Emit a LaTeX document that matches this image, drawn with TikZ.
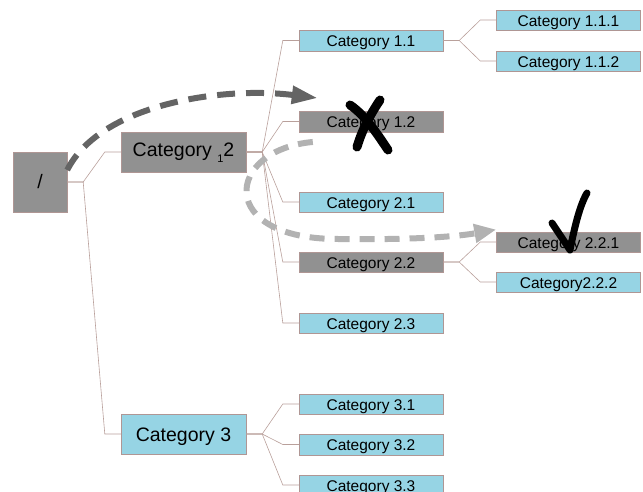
\documentclass[tikz,border=0pt]{standalone}
\usepackage{fontspec}
\setmainfont{Liberation Sans}
\usetikzlibrary{arrows.meta}

\definecolor{catblue}{RGB}{150,212,228}
\definecolor{catgray}{RGB}{145,145,145}
\definecolor{catedge}{RGB}{175,150,148}
\definecolor{linkclr}{RGB}{185,160,155}
\definecolor{darkpath}{RGB}{100,100,100}
\definecolor{lightpath}{RGB}{178,178,178}

\tikzset{
  cat/.style={draw=catedge, fill=catblue, minimum width=144pt, minimum height=20.5pt,
    inner sep=0pt, font=\fontsize{15.5}{16}\selectfont, text height=14pt, text depth=1.5pt},
  catoff/.style={cat, fill=catgray},
  bigcat/.style={draw=catedge, fill=catblue, minimum width=125pt, minimum height=40pt,
    inner sep=0pt, font=\fontsize{19.5}{20}\selectfont, text height=14.5pt, text depth=0pt},
  link/.style={draw=linkclr, line width=0.6pt}
}

\begin{document}
\begin{tikzpicture}[x=1pt, y=-1pt]

    \useasboundingbox (0,0) rectangle (643,491);

    % Root and first level
    \node[draw=catedge, fill=catgray, minimum width=54pt, minimum height=60pt,
      font=\fontsize{19.5}{20}\selectfont] (root) at (40,182) {/};
    \node[bigcat, fill=catgray, text depth=6pt] (catA) at (183.5,152)
      {Category {\fontsize{11}{11}\selectfont\raisebox{-6.5pt}{1}}2};
    \node[bigcat] (catC) at (183.5,434) {Category 3};

    % Second level
    \node[cat] (c11) at (371,40.5) {Category 1.1};
    \node[catoff] (c12) at (371,121.5) {Category 1.2};
    \node[cat] (c21) at (371,202) {Category 2.1};
    \node[catoff] (c22) at (371,262) {Category 2.2};
    \node[cat] (c23) at (371,323) {Category 2.3};
    \node[cat] (c31) at (371,404) {Category 3.1};
    \node[cat] (c32) at (371,444.5) {Category 3.2};
    \node[cat] (c33) at (371,485) {Category 3.3};

    % Third level
    \node[cat] (c111) at (568.5,20) {Category 1.1.1};
    \node[cat] (c112) at (568.5,61) {Category 1.1.2};
    \node[catoff] (c221) at (568.5,242) {Category 2.2.1};
    \node[cat] (c222) at (568.5,282) {Category2.2.2};

    % Links
    \draw[link] (root.east) -- ++(16,0) -- ([xshift=-16pt]catA.west) -- (catA.west);
    \draw[link] (root.east) -- ++(16,0) -- ([xshift=-16pt]catC.west) -- (catC.west);
    \draw[link] (catA.east) -- ++(16,0) -- ([xshift=-16pt]c11.west) -- (c11.west);
    \draw[link] (catA.east) -- ++(16,0) -- ([xshift=-16pt]c12.west) -- (c12.west);
    \draw[link] (catA.east) -- ++(16,0) -- ([xshift=-16pt]c21.west) -- (c21.west);
    \draw[link] (catA.east) -- ++(16,0) -- ([xshift=-16pt]c22.west) -- (c22.west);
    \draw[link] (catA.east) -- ++(16,0) -- ([xshift=-16pt]c23.west) -- (c23.west);
    \draw[link] (catC.east) -- ++(16,0) -- ([xshift=-16pt]c31.west) -- (c31.west);
    \draw[link] (catC.east) -- ++(16,0) -- ([xshift=-16pt]c32.west) -- (c32.west);
    \draw[link] (catC.east) -- ++(16,0) -- ([xshift=-16pt]c33.west) -- (c33.west);
    \draw[link] (c11.east) -- ++(16,0) -- ([xshift=-16pt]c111.west) -- (c111.west);
    \draw[link] (c11.east) -- ++(16,0) -- ([xshift=-16pt]c112.west) -- (c112.west);
    \draw[link] (c22.east) -- ++(16,0) -- ([xshift=-16pt]c221.west) -- (c221.west);
    \draw[link] (c22.east) -- ++(16,0) -- ([xshift=-16pt]c222.west) -- (c222.west);

    % Dashed moves
    \coordinate (darkfrom) at ([yshift=12pt]root.east);
    \coordinate (darkto) at ([xshift=19pt,yshift=13pt]c12.north west);
    \coordinate (lightfrom) at ([xshift=14pt,yshift=-10pt]c12.south west);
    \coordinate (lightto) at ([yshift=2pt]c221.north west);

    \draw[darkpath, line width=6pt, dash pattern=on 18pt off 11pt,
      -{Triangle[length=26pt,width=17pt]}]
      (darkfrom) .. controls (100,105) and (220,86) .. (darkto);
    \draw[lightpath, line width=6pt, dash pattern=on 15pt off 10pt,
      -{Triangle[length=22pt,width=18pt]}]
      (lightfrom) .. controls (225,150) and (215,240) .. (340,239)
      .. controls (420,240) and (460,236) .. (lightto);

    % Cross and tick
    \draw[black, line width=9pt, line cap=round]
      (350,105) .. controls (365,115) and (378,135) .. (388,150);
    \draw[black, line width=9pt, line cap=round]
      (380,100) .. controls (370,115) and (362,130) .. (357,147);
    \draw[black, line width=7pt, line cap=round, line join=round]
      (552,223) -- (570,250) .. controls (575,225) and (580,205) .. (587,193);

\end{tikzpicture}
\end{document}
